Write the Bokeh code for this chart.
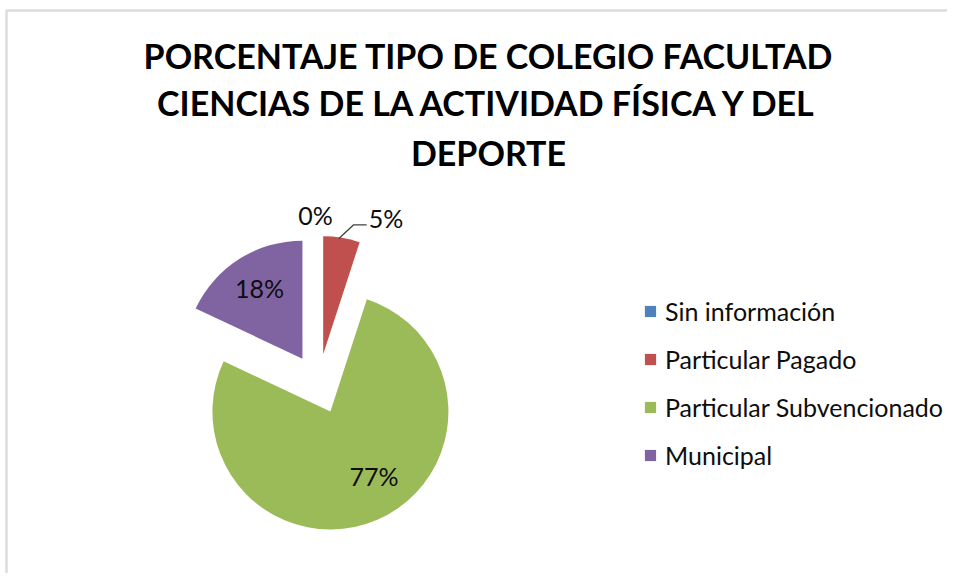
import math
from bokeh.plotting import figure
from bokeh.models import ColumnDataSource, Range1d, Label, Legend, LegendItem, BoxAnnotation
from bokeh.core.properties import value
from bokeh.embed import file_html
from bokeh.resources import INLINE

# ---- data ----
categories = ["Sin información", "Particular Pagado", "Particular Subvencionado", "Municipal"]
percent = [0, 5, 77, 18]
colors = ["#4F81BD", "#C0504D", "#9BBB59", "#8064A2"]
title_lines = ["PORCENTAJE TIPO DE COLEGIO FACULTAD",
               "CIENCIAS DE LA ACTIVIDAD FÍSICA Y DEL",
               "DEPORTE"]

# ---- layout (page pixels; data units = pixels, y measured upward) ----
W, H = 947, 573
def dy(screen_y):
    return H - screen_y

FONT = "Lato"
TXT = "#0d0d0d"
CX, CY = 318.0, dy(383.5)   # pie centre
R = 118.0                    # radius
EXPLODE = 30.0               # explosion distance
LABEL_ANGLE_SHIFT = {2: -9.5}  # degrees, nudges inside label of big slice

p = figure(width=W, height=H, output_backend="svg", toolbar_location=None,
           x_range=Range1d(0, W), y_range=Range1d(0, H), title=None,
           min_border=0, tools="")
p.axis.visible = False
p.xgrid.visible = False
p.ygrid.visible = False
p.outline_line_color = None
p.background_fill_color = "white"
p.border_fill_color = "white"

# chart-area frame (left + top edges visible)
p.add_layout(BoxAnnotation(left=6, right=W + 40, top=dy(10), bottom=-40,
                           fill_color=None, line_color="#8a8a8a", line_width=2.5))

total = float(sum(percent))
cum = 0.0
xs, ys, starts, ends, mids, radii = [], [], [], [], [], []
for v in percent:
    t1 = cum / total * 2 * math.pi
    cum += v
    t2 = cum / total * 2 * math.pi
    m = (t1 + t2) / 2
    xs.append(CX + EXPLODE * math.sin(m))
    ys.append(CY + EXPLODE * math.cos(m))
    starts.append(math.pi / 2 - t2)
    ends.append(math.pi / 2 - t1)
    mids.append(m)
    radii.append(R if v > 0 else 0.0)

src = ColumnDataSource(dict(cat=categories, val=percent, x=xs, y=ys, r=radii,
                            start=starts, end=ends, color=colors))
wedges = p.wedge(x="x", y="y", radius="r", start_angle="start", end_angle="end",
                 direction="anticlock", fill_color="color", line_color=None, source=src)

# data labels
lab_x, lab_y, lab_t = [], [], []
out_x, out_y, out_t = [], [], []
for i, v in enumerate(percent):
    m = mids[i]
    txt = f"{v}%"
    if v >= 10:
        a = m + math.radians(LABEL_ANGLE_SHIFT.get(i, 0.0))
        lab_x.append(xs[i] + 0.68 * R * math.sin(a))
        lab_y.append(ys[i] + 0.68 * R * math.cos(a) + 3)
        lab_t.append(txt)
    elif v == 0:
        out_x.append(xs[i] + 1.18 * R * math.sin(m) - 3)
        out_y.append(ys[i] + 1.18 * R * math.cos(m))
        out_t.append(txt)
    else:
        ux, uy = math.sin(m), math.cos(m)
        px, py = xs[i] + R * ux - 3, ys[i] + R * uy - 1
        ex, ey = px + 15, py + 14
        p.line([px, ex, ex + 13], [py, ey, ey], line_color="#404040", line_width=1.3)
        p.text(x=[ex + 15], y=[ey + 7], text=[txt], text_font=value(FONT),
               text_font_size="25px", text_color=TXT,
               text_align="left", text_baseline="middle")

p.text(x=lab_x, y=lab_y, text=lab_t, text_font=value(FONT), text_font_size="25px",
       text_color=TXT, text_align="center", text_baseline="middle")
p.text(x=out_x, y=out_y, text=out_t, text_font=value(FONT), text_font_size="25px",
       text_color=TXT, text_align="center", text_baseline="middle")

# title
title_y = [54.5, 102, 152]
for line, ty in zip(title_lines, title_y):
    p.add_layout(Label(x=488, y=dy(ty), text=line, text_align="center",
                       text_baseline="middle", text_font=FONT, text_font_size="34px",
                       text_font_style="bold", text_color="#000000"))

# legend
items = [LegendItem(label=c, renderers=[wedges], index=i) for i, c in enumerate(categories)]
legend = Legend(items=items, location=(643, dy(469.5)),
                orientation="vertical", padding=0, margin=0, spacing=18,
                glyph_width=14, glyph_height=14, label_height=30, label_standoff=8,
                label_text_font=FONT, label_text_font_size="25px",
                label_text_color=TXT, border_line_color=None,
                background_fill_alpha=0)
p.add_layout(legend)

open("out.html", "w").write(file_html(p, INLINE))
